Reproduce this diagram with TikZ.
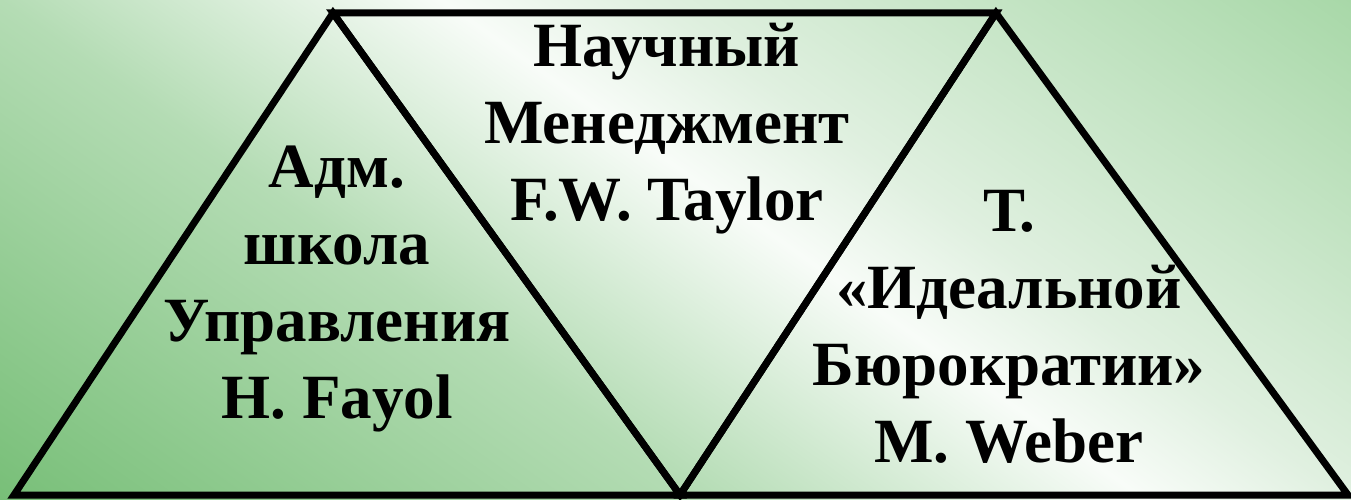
\documentclass[tikz,border=0pt]{standalone}
\usepackage{fontspec}
\setmainfont{Liberation Serif}
\definecolor{gA}{RGB}{120,191,120}
\definecolor{gB}{RGB}{180,220,180}
\definecolor{gC}{RGB}{248,252,248}
\definecolor{gD}{RGB}{224,240,224}
\definecolor{gE}{RGB}{168,216,168}
\pgfdeclarehorizontalshading{bgshade}{100bp}{color(0bp)=(gA); color(30.19bp)=(gA); color(43.76bp)=(gB); color(52.26bp)=(gC); color(56.26bp)=(gD); color(69.82bp)=(gE); color(100bp)=(gE)}
\begin{document}
\begin{tikzpicture}[x=1pt,y=1pt,
  tri/.style={draw=black, line width=7pt},
  lbl/.style={font=\bfseries\fontsize{63}{77}\selectfont, align=center, anchor=base, inner sep=0pt}]
\useasboundingbox (0,0) rectangle (1351,499);
\begin{scope}
  \clip (0,0) rectangle (1351,499);
  \shade[shading=bgshade, shading angle=54.65] (-74.5,-500.5) rectangle (1425.5,999.5);
\end{scope}
\coordinate (BL) at (14,4);
\coordinate (LA) at (333,486);
\coordinate (MB) at (680,4);
\coordinate (RA) at (996,486);
\coordinate (BR) at (1348,4);
\draw[tri] (BL) -- (LA) -- (MB) -- cycle;
\draw[tri] (LA) -- (RA) -- (MB) -- cycle;
\draw[tri] (MB) -- (RA) -- (BR) -- cycle;
\node[lbl] (adm) at (337,81) {Адм.\\школа\\Управления\\H. Fayol};
\node[lbl] (sci) at (667,279) {Научный\\Менеджмент\\F.W. Taylor};
\node[lbl] (web) at (1009,37) {Т.\\«Идеальной\\Бюрократии»\\M. Weber};
\end{tikzpicture}
\end{document}
